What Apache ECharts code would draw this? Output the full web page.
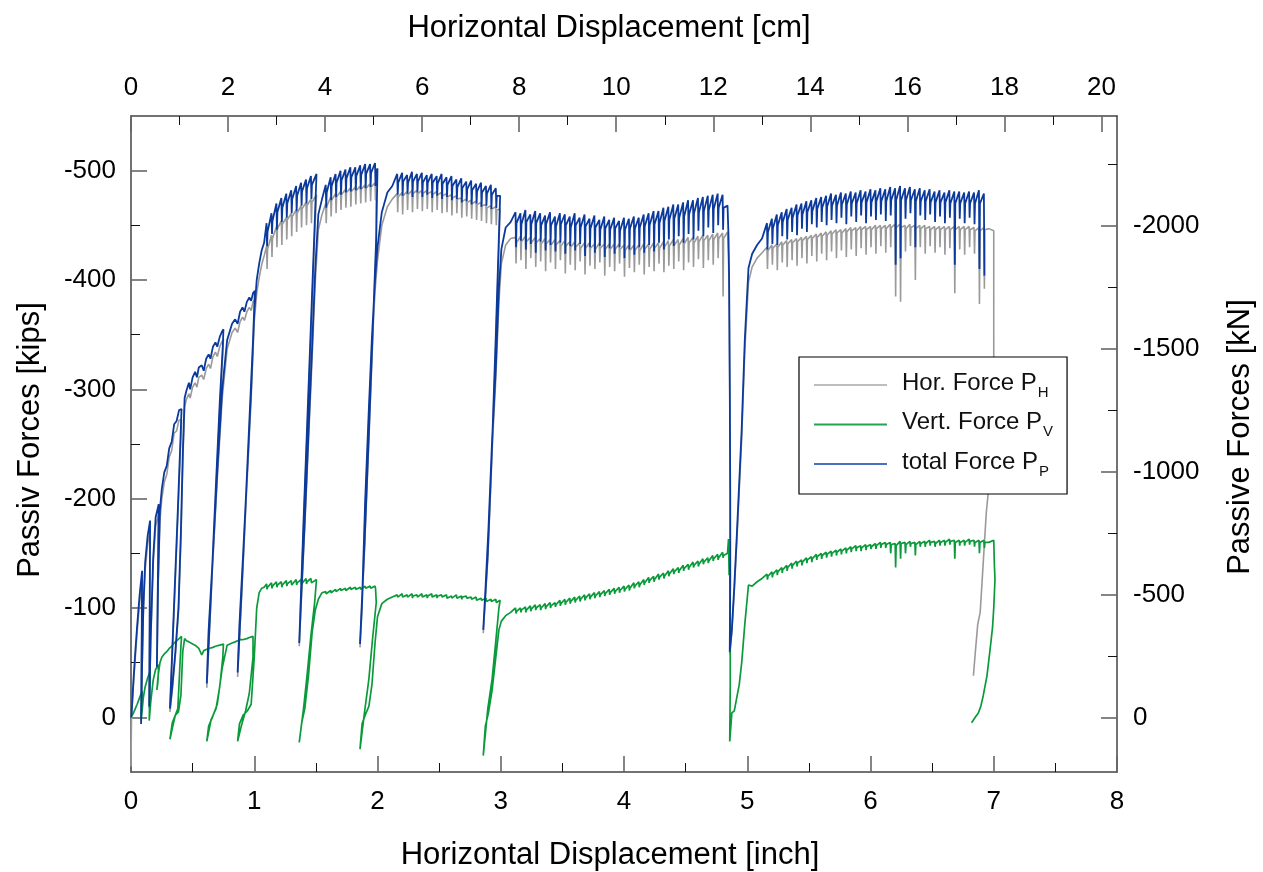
<!DOCTYPE html>
<html>
<head>
<meta charset="utf-8">
<script src="https://cdn.jsdelivr.net/npm/echarts@6.0.0/dist/echarts.min.js"></script>
<style>
  html, body { margin: 0; padding: 0; background: #fff; }
  #chart { width: 1263px; height: 872px; }
</style>
</head>
<body>
<div id="chart"></div>
<script>
// Passive force test record: horizontal displacement [inch] against force [kips].
// One row per recorded step; the three force arrays share the displacement array.

const disp = [
  // initial loading with three small unload/reload cycles
  0, 0.004, 0.02, 0.035, 0.05, 0.07, 0.09, 0.087, 0.082, 0.09, 0.1, 0.115, 0.135, 0.155, 0.152, 0.148, 0.16,
  0.18, 0.2, 0.225, 0.218, 0.21, 0.22, 0.235, 0.25, 0.27, 0.29, 0.31, 0.33, 0.35, 0.37, 0.39, 0.41,
  // cycle 1
  0.40, 0.38, 0.36, 0.335, 0.316, 0.335, 0.36, 0.385, 0.405, 0.42, 0.435,
  // loading
  0.45, 0.47, 0.48, 0.50, 0.52, 0.535, 0.55, 0.574, 0.59, 0.61, 0.63, 0.645, 0.665, 0.685, 0.70, 0.72, 0.735, 0.75,
  // cycle 2
  0.745, 0.72, 0.69, 0.65, 0.615, 0.63, 0.66, 0.70, 0.74, 0.78, 0.82,
  // loading
  0.845, 0.865, 0.885, 0.905, 0.92, 0.94, 0.96, 0.975, 0.99, 1.005,
  // cycle 3
  0.99, 0.96, 0.93, 0.895, 0.865, 0.88, 0.91, 0.945, 0.975, 1.0, 1.02, 1.04, 1.06, 1.08,
  // loading to 1.5 in
  1.10, 1.104, 1.108, 1.14, 1.144, 1.148, 1.18, 1.184, 1.188, 1.22, 1.224, 1.228, 1.26, 1.264, 1.268,
  1.30, 1.304, 1.308, 1.34, 1.344, 1.348, 1.38, 1.384, 1.388, 1.42, 1.424, 1.428, 1.46, 1.464, 1.468, 1.505,
  // cycle 4
  1.49, 1.46, 1.43, 1.40, 1.365, 1.385, 1.41, 1.44, 1.47, 1.495, 1.52, 1.55,
  // loading to 2 in
  1.58, 1.584, 1.588, 1.62, 1.624, 1.628, 1.66, 1.664, 1.668, 1.70, 1.704, 1.708, 1.74, 1.744, 1.748,
  1.78, 1.784, 1.788, 1.82, 1.824, 1.828, 1.86, 1.864, 1.868, 1.90, 1.904, 1.908, 1.94, 1.944, 1.948,
  1.98, 1.984, 1.988, 2.0,
  // cycle 5
  1.99, 1.96, 1.93, 1.895, 1.858, 1.875, 1.90, 1.93, 1.955, 1.98, 2.0, 2.035, 2.08, 2.12,
  // loading to 3 in
  2.16, 2.164, 2.168, 2.20, 2.204, 2.208, 2.24, 2.244, 2.248, 2.28, 2.284, 2.288, 2.32, 2.324, 2.328,
  2.36, 2.364, 2.368, 2.40, 2.404, 2.408, 2.44, 2.444, 2.448, 2.48, 2.484, 2.488, 2.52, 2.524, 2.528,
  2.56, 2.564, 2.568, 2.60, 2.604, 2.608, 2.64, 2.644, 2.648, 2.68, 2.684, 2.688, 2.72, 2.724, 2.728,
  2.76, 2.764, 2.768, 2.80, 2.804, 2.808, 2.84, 2.844, 2.848, 2.88, 2.884, 2.888, 2.92, 2.924, 2.928,
  2.96, 2.964, 2.968,
  // cycle 6
  2.995, 2.985, 2.96, 2.93, 2.895, 2.858, 2.875, 2.90, 2.93, 2.96, 2.985, 3.005, 3.04, 3.08,
  // loading to 4.85 in
  3.12, 3.124, 3.128, 3.16, 3.164, 3.168, 3.20, 3.204, 3.208, 3.24, 3.244, 3.248, 3.28, 3.284, 3.288,
  3.32, 3.324, 3.328, 3.36, 3.364, 3.368, 3.40, 3.404, 3.408, 3.44, 3.444, 3.448, 3.48, 3.484, 3.488,
  3.52, 3.524, 3.528, 3.56, 3.564, 3.568, 3.60, 3.604, 3.608, 3.64, 3.644, 3.648, 3.68, 3.684, 3.688,
  3.72, 3.724, 3.728, 3.76, 3.764, 3.768, 3.80, 3.804, 3.808, 3.84, 3.844, 3.848, 3.88, 3.884, 3.888,
  3.92, 3.924, 3.928, 3.96, 3.964, 3.968, 4.00, 4.004, 4.008, 4.04, 4.044, 4.048, 4.08, 4.084, 4.088,
  4.12, 4.124, 4.128, 4.16, 4.164, 4.168, 4.20, 4.204, 4.208, 4.24, 4.244, 4.248, 4.28, 4.284, 4.288,
  4.32, 4.324, 4.328, 4.36, 4.364, 4.368, 4.40, 4.404, 4.408, 4.44, 4.444, 4.448, 4.48, 4.484, 4.488,
  4.52, 4.524, 4.528, 4.56, 4.564, 4.568, 4.60, 4.604, 4.608, 4.64, 4.644, 4.648, 4.68, 4.684, 4.688,
  4.72, 4.724, 4.728, 4.76, 4.764, 4.768, 4.80, 4.804, 4.808,
  // cycle 7
  4.84, 4.848, 4.853, 4.858, 4.862, 4.862, 4.858, 4.875, 4.895, 4.915, 4.935, 4.955, 4.98, 5.01, 5.04, 5.08, 5.12,
  // loading to 7 in
  5.16, 5.164, 5.168, 5.20, 5.204, 5.208, 5.24, 5.244, 5.248, 5.28, 5.284, 5.288, 5.32, 5.324, 5.328,
  5.36, 5.364, 5.368, 5.40, 5.404, 5.408, 5.44, 5.444, 5.448, 5.48, 5.484, 5.488, 5.52, 5.524, 5.528,
  5.56, 5.564, 5.568, 5.60, 5.604, 5.608, 5.64, 5.644, 5.648, 5.68, 5.684, 5.688, 5.72, 5.724, 5.728,
  5.76, 5.764, 5.768, 5.80, 5.804, 5.808, 5.84, 5.844, 5.848, 5.88, 5.884, 5.888, 5.92, 5.924, 5.928,
  5.96, 5.964, 5.968, 6.00, 6.004, 6.008, 6.04, 6.044, 6.048, 6.08, 6.084, 6.088, 6.12, 6.124, 6.128,
  6.16, 6.164, 6.168, 6.20, 6.204, 6.208, 6.24, 6.244, 6.248, 6.28, 6.284, 6.288, 6.32, 6.324, 6.328,
  6.36, 6.364, 6.368, 6.40, 6.404, 6.408, 6.44, 6.444, 6.448, 6.48, 6.484, 6.488, 6.52, 6.524, 6.528,
  6.56, 6.564, 6.568, 6.60, 6.604, 6.608, 6.64, 6.644, 6.648, 6.68, 6.684, 6.688, 6.72, 6.724, 6.728,
  6.76, 6.764, 6.768, 6.80, 6.804, 6.808, 6.84, 6.844, 6.848, 6.88, 6.884, 6.888, 6.92, 6.924, 6.928
];

// Horizontal force P_H [kips]
const hForce = [
  45, 0, -30, -55, -78, -105, -126, -70, 4, -45, -95, -135, -158, -172, -100, -8, -70,
  -140, -175, -186, -120, -44, -120, -180, -200, -215, -222, -238, -244, -260, -262, -272, -272,
  -243, -183, -127, -58, -5, -25, -56, -95, -163, -232, -284,
  -291, -296, -292, -302, -306, -302, -311, -313, -309, -319, -323, -319, -330, -334, -330, -339, -343, -346,
  -333, -281, -208, -110, -27, -76, -134, -218, -292, -337, -352,
  -356, -352, -362, -366, -363, -371, -375, -372, -380, -382,
  -338, -263, -188, -105, -37, -80, -144, -223, -292, -362, -388, -402, -414, -422,
  -431, -410, -428, -441, -421, -438, -449, -430, -447, -454, -432, -451, -457, -437, -455,
  -461, -440, -458, -464, -444, -461, -468, -448, -465, -471, -450, -468, -474, -452, -471, -478,
  -440, -350, -262, -174, -65, -115, -174, -252, -330, -398, -446, -460,
  -470, -452, -467, -476, -458, -473, -479, -461, -476, -481, -464, -478, -483, -466, -480,
  -484, -467, -481, -485, -469, -482, -486, -470, -483, -487, -471, -484, -488, -472, -485,
  -489, -473, -486, -486,
  -432, -342, -253, -154, -64, -100, -190, -274, -338, -390, -418, -450, -467, -474,
  -479, -462, -476, -480, -460, -477, -481, -464, -478, -482, -462, -479, -482, -465, -479,
  -482, -463, -479, -482, -465, -479, -481, -462, -478, -481, -464, -478, -480, -461, -477,
  -479, -462, -476, -478, -459, -475, -477, -461, -474, -475, -457, -472, -474, -458, -471,
  -473, -456, -470, -472, -455, -469, -471, -454, -468, -469, -452, -466, -468, -451, -465,
  -467, -450, -464,
  -465, -430, -342, -243, -145, -77, -110, -165, -245, -310, -380, -415, -432, -438,
  -439, -415, -434, -440, -418, -435, -440, -410, -435, -439, -420, -434, -439, -412, -434,
  -438, -417, -433, -438, -408, -433, -437, -416, -432, -437, -410, -432, -436, -418, -431,
  -436, -406, -431, -435, -414, -430, -435, -409, -430, -434, -417, -429, -434, -405, -429,
  -434, -413, -429, -433, -410, -428, -434, -416, -429, -433, -404, -428, -433, -412, -428,
  -433, -408, -428, -433, -415, -428, -432, -403, -427, -432, -411, -427, -432, -407, -427,
  -432, -414, -427, -433, -405, -428, -433, -412, -428, -434, -408, -429, -434, -415, -429,
  -435, -407, -430, -436, -413, -431, -437, -410, -432, -437, -417, -432, -438, -409, -433,
  -439, -416, -434, -439, -412, -434, -440, -419, -435, -441, -411, -436, -441, -418, -436,
  -442, -414, -437, -443, -420, -438, -443, -385, -438,
  -444, -420, -385, -300, -200, -120, -58, -78, -116, -160, -208, -255, -335, -398, -412, -420, -425,
  -430, -410, -427, -432, -414, -429, -433, -409, -430, -435, -416, -432, -436, -412, -433,
  -437, -418, -434, -438, -413, -435, -439, -420, -436, -440, -415, -437, -441, -422, -438,
  -442, -417, -439, -443, -424, -440, -444, -418, -441, -445, -426, -442, -446, -420, -443,
  -446, -427, -443, -447, -421, -444, -448, -428, -445, -448, -422, -445, -449, -429, -446,
  -449, -423, -446, -449, -430, -446, -450, -424, -447, -450, -431, -447, -450, -425, -447,
  -451, -430, -448, -451, -385, -448, -451, -380, -448, -450, -426, -447, -451, -431, -448,
  -450, -400, -447, -450, -430, -447, -450, -424, -447, -449, -431, -446, -449, -425, -446,
  -449, -430, -446, -449, -423, -446, -449, -429, -446, -449, -388, -446, -449, -428, -446,
  -449, -423, -446, -449, -430, -446, -448, -424, -445, -448, -378, -445, -448, -392, -446
];

// Vertical force P_V [kips]
const vForce = [
  0, 0, -4, -8, -12, -18, -24, -10, 2, -6, -18, -28, -36, -42, -20, 3, -14,
  -34, -44, -48, -32, -25, -38, -50, -55, -58, -60, -63, -65, -68, -70, -72, -74,
  -55, -8, -2, 10, 20, 5, -2, -5, -20, -60, -72,
  -70, -69, -68, -67, -66, -65, -63, -57, -61, -62, -63, -63, -64, -65, -65, -66, -66, -67,
  -55, -28, -8, 2, 22, 8, 0, -12, -45, -66, -68,
  -69, -70, -71, -71, -72, -72, -73, -73, -74, -74,
  -55, -22, -6, 8, 22, 6, -2, -6, -12, -55, -100, -114, -118, -119,
  -122, -117, -119, -123, -118, -120, -124, -119, -121, -124, -119, -121, -125, -120, -122,
  -125, -121, -122, -126, -121, -123, -126, -122, -123, -127, -122, -124, -127, -123, -124, -126,
  -105, -75, -40, -8, 23, 5, -8, -38, -78, -98, -108, -114,
  -115, -113, -114, -116, -114, -115, -117, -115, -116, -118, -116, -117, -118, -116, -117,
  -119, -117, -118, -119, -117, -118, -119, -117, -118, -120, -118, -119, -120, -118, -119,
  -120, -118, -119, -119,
  -105, -72, -35, -5, 29, 6, -2, -10, -30, -68, -92, -104, -108, -110,
  -112, -110, -111, -113, -110, -111, -112, -110, -111, -113, -109, -111, -112, -110, -111,
  -113, -110, -111, -112, -109, -111, -113, -110, -111, -112, -109, -111, -112, -110, -111,
  -112, -109, -110, -111, -109, -110, -112, -109, -110, -111, -108, -110, -111, -109, -110,
  -110, -108, -109, -110, -107, -108, -109, -107, -108, -109, -106, -107, -108, -106, -107,
  -108, -105, -106,
  -107, -100, -70, -35, -8, 35, 8, -4, -25, -55, -80, -88, -93, -96,
  -100, -95, -97, -100, -96, -98, -101, -96, -98, -102, -97, -99, -103, -98, -100,
  -103, -98, -100, -104, -99, -101, -105, -100, -102, -105, -101, -103, -107, -102, -104,
  -108, -103, -105, -109, -104, -106, -110, -105, -107, -111, -106, -108, -112, -107, -109,
  -113, -108, -110, -114, -109, -111, -115, -110, -112, -116, -111, -113, -117, -112, -114,
  -118, -113, -115, -119, -114, -116, -120, -115, -117, -121, -116, -118, -123, -118, -120,
  -124, -119, -121, -126, -121, -123, -128, -123, -125, -129, -124, -126, -131, -126, -128,
  -132, -127, -129, -134, -129, -131, -136, -131, -133, -137, -132, -134, -139, -134, -136,
  -140, -135, -137, -142, -137, -139, -143, -138, -140, -145, -140, -142, -146, -141, -143,
  -148, -143, -145, -149, -144, -146, -151, -146, -148,
  -150, -163, -130, -140, -90, -30, 22, -4, -6, -18, -30, -50, -85, -121, -120, -124, -127,
  -131, -126, -129, -133, -128, -131, -135, -130, -133, -137, -132, -135, -139, -134, -137,
  -141, -136, -139, -143, -138, -141, -144, -139, -142, -146, -141, -144, -147, -142, -145,
  -149, -144, -147, -150, -145, -148, -151, -146, -149, -152, -147, -150, -153, -148, -151,
  -154, -149, -152, -155, -150, -153, -156, -151, -154, -157, -152, -155, -157, -152, -155,
  -158, -153, -156, -158, -154, -156, -159, -154, -157, -160, -155, -158, -160, -155, -158,
  -160, -150, -158, -159, -137, -157, -161, -145, -159, -160, -150, -158, -161, -156, -159,
  -160, -148, -158, -161, -156, -159, -161, -156, -159, -162, -157, -160, -161, -156, -159,
  -162, -157, -160, -162, -157, -160, -163, -158, -161, -162, -145, -160, -162, -157, -160,
  -162, -157, -160, -163, -158, -161, -162, -156, -160, -162, -150, -160, -162, -155, -160
];

// Total force P_P [kips]
const pForce = [
  0, -2, -34, -60, -84, -112, -134, -74, 6, -48, -100, -142, -166, -180, -104, -10, -74,
  -146, -183, -195, -124, -46, -126, -190, -209, -224, -230, -246, -252, -268, -271, -281, -282,
  -250, -190, -133, -62, -8, -28, -60, -100, -170, -240, -292,
  -299, -306, -300, -311, -316, -311, -320, -322, -317, -328, -332, -328, -339, -343, -339, -348, -352, -355,
  -340, -288, -215, -115, -31, -80, -140, -225, -300, -345, -360,
  -364, -360, -371, -375, -371, -380, -384, -381, -388, -390,
  -345, -270, -195, -110, -41, -85, -150, -230, -300, -370, -400, -415, -427, -434,
  -452, -431, -444, -461, -442, -454, -470, -446, -462, -475, -453, -466, -479, -457, -470,
  -482, -461, -474, -486, -463, -477, -489, -468, -481, -492, -470, -484, -495, -474, -487, -497,
  -450, -360, -270, -180, -68, -120, -180, -260, -340, -410, -460, -474,
  -487, -466, -480, -494, -473, -486, -497, -476, -489, -500, -478, -491, -501, -480, -493,
  -503, -481, -494, -503, -482, -495, -505, -483, -496, -506, -484, -497, -506, -485, -498,
  -507, -486, -499, -502,
  -440, -350, -260, -160, -67, -106, -198, -283, -348, -400, -430, -462, -480, -486,
  -497, -478, -489, -498, -477, -490, -496, -479, -489, -499, -476, -490, -497, -480, -490,
  -498, -476, -489, -496, -478, -489, -497, -475, -489, -495, -477, -488, -497, -474, -488,
  -494, -476, -487, -495, -473, -486, -492, -474, -485, -493, -471, -484, -490, -472, -483,
  -491, -469, -482, -488, -470, -481, -489, -467, -480, -486, -468, -479, -487, -465, -478,
  -484, -466, -477,
  -477, -440, -350, -250, -150, -80, -115, -172, -254, -320, -392, -428, -448, -453,
  -462, -430, -452, -461, -436, -451, -464, -428, -453, -460, -433, -451, -463, -425, -452,
  -461, -435, -450, -459, -427, -451, -462, -432, -450, -458, -426, -449, -461, -434, -451,
  -460, -424, -450, -458, -431, -448, -461, -427, -450, -457, -433, -448, -460, -422, -449,
  -456, -430, -447, -459, -425, -448, -455, -431, -446, -458, -421, -447, -455, -429, -446,
  -457, -424, -447, -454, -430, -445, -457, -420, -446, -456, -428, -447, -458, -423, -447,
  -457, -430, -448, -460, -425, -449, -461, -432, -450, -463, -426, -451, -463, -434, -452,
  -466, -428, -454, -467, -437, -455, -469, -431, -456, -469, -440, -457, -471, -434, -458,
  -473, -442, -460, -473, -437, -461, -475, -445, -462, -476, -440, -463, -477, -448, -464,
  -478, -443, -465, -479, -450, -466, -478, -446, -466,
  -468, -440, -400, -310, -205, -124, -60, -80, -120, -166, -215, -264, -345, -411, -424, -432, -438,
  -452, -428, -444, -456, -433, -447, -460, -432, -450, -462, -440, -453, -465, -437, -455,
  -466, -444, -457, -469, -441, -459, -470, -447, -460, -472, -444, -462, -473, -451, -463,
  -475, -448, -465, -476, -453, -466, -477, -450, -467, -479, -455, -468, -478, -452, -468,
  -480, -457, -469, -479, -451, -469, -481, -458, -470, -480, -453, -470, -482, -459, -471,
  -481, -452, -471, -483, -458, -471, -482, -455, -472, -484, -460, -472, -483, -454, -472,
  -485, -459, -473, -484, -414, -473, -486, -420, -473, -484, -456, -473, -485, -461, -473,
  -483, -430, -472, -484, -459, -472, -482, -455, -472, -483, -460, -471, -481, -453, -471,
  -482, -458, -471, -480, -452, -471, -482, -457, -470, -481, -414, -470, -481, -456, -470,
  -480, -452, -470, -481, -457, -470, -480, -451, -470, -482, -410, -470, -479, -404, null
];

// Final unloading at 7 in (horizontal and vertical force only)
const hTailDisp  = [6.96, 7.0, 7.0, 6.975, 6.955, 6.94, 6.915, 6.89, 6.87, 6.86, 6.85, 6.835];
const hTailForce = [-447, -445, -330, -260, -205, -188, -142, -96, -85, -72, -59, -38];
const vTailDisp  = [6.96, 7.0, 7.005, 7.01, 7.0, 6.99, 6.97, 6.945, 6.915, 6.895, 6.875, 6.85, 6.82];
const vTailForce = [-160, -162, -140, -126, -100, -82, -62, -38, -20, -10, -4, 0, 5];

// Axis ticks
const inchTicks = [0, 1, 2, 3, 4, 5, 6, 7, 8];
const inchMinor = [0.5, 1.5, 2.5, 3.5, 4.5, 5.5, 6.5, 7.5];
const cmTicks = [0, 2, 4, 6, 8, 10, 12, 14, 16, 18, 20];
const cmMinor = [1, 3, 5, 7, 9, 11, 13, 15, 17, 19];
const kipTicks = [-500, -400, -300, -200, -100, 0];
const kipMinor = [-450, -350, -250, -150, -50];
const knTicks = [-2000, -1500, -1000, -500, 0];
const knMinor = [-2250, -1750, -1250, -750, -250];

const seriesNames = ['Hor. Force P_H', 'Vert. Force P_V', 'total Force P_P'];

const CM_PER_INCH = 2.54;
const KN_PER_KIP = 4.44822;
const X_MAX = 8;
const KIP_MIN = -550, KIP_MAX = 50;
const FONT = '"Liberation Sans", Arial, Helvetica, sans-serif';

function pairs(xs, ys) {
  const out = [];
  for (let i = 0; i < xs.length; i++) {
    if (ys[i] !== null && ys[i] !== undefined) out.push([xs[i], ys[i]]);
  }
  return out;
}

const hData = pairs(disp, hForce).concat(pairs(hTailDisp, hTailForce));
const vData = pairs(disp, vForce).concat(pairs(vTailDisp, vTailForce));
const pData = pairs(disp, pForce);

const labelStyle = { fontSize: 26, color: '#000', fontFamily: FONT, formatter: v => String(v) };

function majorAxis(position, min, max, ticks, extra) {
  return Object.assign({
    type: 'value', position, min, max,
    axisLine: { show: true, onZero: false, lineStyle: { color: '#444', width: 1.5 } },
    axisTick: { show: true, inside: true, length: 16, customValues: ticks, lineStyle: { color: '#666', width: 1.6 } },
    axisLabel: Object.assign({ show: true, customValues: ticks }, labelStyle),
    splitLine: { show: false },
    minorTick: { show: false }
  }, extra || {});
}
function minorAxis(position, min, max, ticks, extra) {
  return Object.assign({
    type: 'value', position, min, max,
    axisLine: { show: false, onZero: false },
    axisTick: { show: true, inside: true, length: 9, customValues: ticks, lineStyle: { color: '#111', width: 1 } },
    axisLabel: { show: false },
    splitLine: { show: false }
  }, extra || {});
}

const chart = echarts.init(document.getElementById('chart'), null, { renderer: 'canvas' });

chart.setOption({
  animation: false,
  backgroundColor: '#fff',
  textStyle: { fontFamily: FONT },
  grid: { left: 131, top: 116, width: 986, height: 656, outerBoundsMode: 'none' },
  xAxis: [
    majorAxis('bottom', 0, X_MAX, inchTicks, { axisLabel: Object.assign({ customValues: inchTicks, margin: 17 }, labelStyle) }),
    minorAxis('bottom', 0, X_MAX, inchMinor),
    majorAxis('top', 0, X_MAX * CM_PER_INCH, cmTicks, { axisLabel: Object.assign({ customValues: cmTicks, margin: 15 }, labelStyle) }),
    minorAxis('top', 0, X_MAX * CM_PER_INCH, cmMinor)
  ],
  yAxis: [
    majorAxis('left', KIP_MIN, KIP_MAX, kipTicks, { inverse: true, axisLabel: Object.assign({ customValues: kipTicks, margin: 15 }, labelStyle) }),
    minorAxis('left', KIP_MIN, KIP_MAX, kipMinor, { inverse: true }),
    majorAxis('right', KIP_MIN * KN_PER_KIP, KIP_MAX * KN_PER_KIP, knTicks, { inverse: true, axisLabel: Object.assign({ customValues: knTicks, margin: 16 }, labelStyle) }),
    minorAxis('right', KIP_MIN * KN_PER_KIP, KIP_MAX * KN_PER_KIP, knMinor, { inverse: true })
  ],
  legend: {
    data: [
      { name: seriesNames[0], itemStyle: { color: '#bdbdbd' } },
      { name: seriesNames[1], itemStyle: { color: '#22a453' } },
      { name: seriesNames[2], itemStyle: { color: '#4a6ec6' } }
    ],
    orient: 'vertical',
    left: 799, top: 357,
    backgroundColor: '#fff',
    borderColor: '#000', borderWidth: 1.2, borderRadius: 0,
    padding: [14, 14, 15, 15],
    itemGap: 10.5,
    icon: 'rect',
    itemWidth: 73, itemHeight: 2,
    selectedMode: false,
    formatter: name => {
      const parts = name.split('_');
      return '{m|' + parts[0] + '}{s|' + parts[1] + '}';
    },
    textStyle: {
      color: '#111', fontSize: 24, fontFamily: FONT,
      rich: {
        m: { fontSize: 24, lineHeight: 28, verticalAlign: 'top', padding: [0, 0, 0, 10], fontFamily: FONT, color: '#111' },
        s: { fontSize: 15, lineHeight: 15, verticalAlign: 'top', padding: [14, 0, 0, 1], fontFamily: FONT, color: '#111' }
      }
    }
  },
  graphic: [
    { type: 'text', x: 609, y: 28, silent: true,
      style: { text: 'Horizontal Displacement [cm]', font: '31px ' + FONT, fill: '#000', align: 'center', verticalAlign: 'middle' } },
    { type: 'text', x: 610, y: 855, silent: true,
      style: { text: 'Horizontal Displacement [inch]', font: '31px ' + FONT, fill: '#000', align: 'center', verticalAlign: 'middle' } },
    { type: 'text', x: 30, y: 440, rotation: Math.PI / 2, silent: true,
      style: { text: 'Passiv Forces [kips]', font: '31px ' + FONT, fill: '#000', align: 'center', verticalAlign: 'middle' } },
    { type: 'text', x: 1240, y: 437, rotation: Math.PI / 2, silent: true,
      style: { text: 'Passive Forces [kN]', font: '31px ' + FONT, fill: '#000', align: 'center', verticalAlign: 'middle' } }
  ],
  series: [
    { name: seriesNames[0], type: 'line', xAxisIndex: 0, yAxisIndex: 0, data: hData, symbol: 'none',
      lineStyle: { color: '#9a9a9a', width: 1.6 }, itemStyle: { color: '#9a9a9a' }, silent: true },
    { name: seriesNames[1], type: 'line', xAxisIndex: 0, yAxisIndex: 0, data: vData, symbol: 'none',
      lineStyle: { color: '#0a9a3a', width: 1.7 }, itemStyle: { color: '#0a9a3a' }, silent: true },
    { name: seriesNames[2], type: 'line', xAxisIndex: 0, yAxisIndex: 0, data: pData, symbol: 'none',
      lineStyle: { color: '#0b3a9c', width: 1.8 }, itemStyle: { color: '#0b3a9c' }, silent: true }
  ]
});
</script>
</body>
</html>
